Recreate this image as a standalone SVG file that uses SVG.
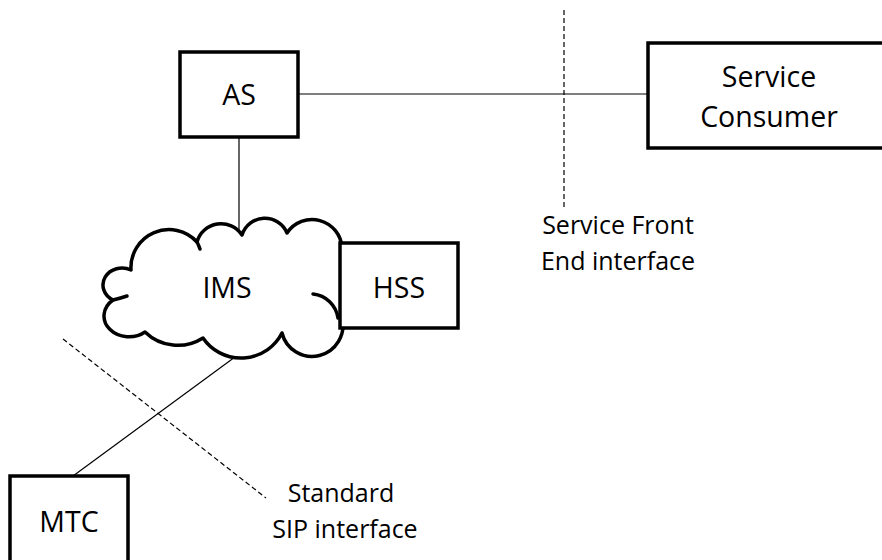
<svg xmlns="http://www.w3.org/2000/svg" width="882" height="560" viewBox="0 0 882 560">
<style>
.box{fill:#fff;stroke:#000;stroke-width:3.5}
.cloud{fill:#fff;stroke:#000;stroke-width:3.5;stroke-linejoin:round;stroke-linecap:round}
.tick{fill:none;stroke:#000;stroke-width:3.5;stroke-linecap:round}
.ln{stroke:#000;stroke-width:1.2;fill:none}
.dash{stroke:#000;stroke-width:1.2;fill:none;stroke-dasharray:5 3}
.t{font-family:"Open Sans","Noto Sans",sans-serif;font-size:28.5px;fill:#000;text-anchor:middle}
.s{font-family:"Open Sans","Noto Sans",sans-serif;font-size:25px;fill:#000;text-anchor:middle}
</style>
<rect width="882" height="560" fill="#fff"/>
<g id="connectors">
<line class="ln" x1="298" y1="94" x2="648" y2="94"/>
<line class="ln" x1="239" y1="137" x2="239" y2="234"/>
<line class="ln" x1="235" y1="357" x2="73" y2="476"/>
<line class="dash" x1="564" y1="10" x2="564" y2="210"/>
<line class="dash" x1="63" y1="339" x2="266" y2="498"/>
</g>
<g id="ims">
<path class="cloud" d="M131,270 A38,38 0 0 1 197,242 A25,25 0 0 1 242,235 A24,24 0 0 1 287,233 A30,30 0 0 1 342,248 L342,318 A28,28 0 0 1 282,333 A46,46 0 0 1 203,338 A47,47 0 0 1 145,332 A24,20 0 0 1 113,300 A19,17 0 0 1 131,270 Z"/>
<path class="tick" d="M313,294 A28,28 0 0 1 338,318"/>
<path class="tick" d="M197,242 Q199,246 200,249"/>
<path class="tick" d="M113,300 Q121,298 127,296"/>
<text class="t" x="227" y="298">IMS</text>
</g>
<g id="as">
<rect class="box" x="180" y="52" width="118" height="85"/>
<text class="t" x="239" y="105">AS</text>
</g>
<g id="hss">
<rect class="box" x="340" y="243" width="118" height="85"/>
<text class="t" x="399" y="298">HSS</text>
</g>
<g id="service-consumer">
<rect class="box" x="648" y="43" width="240" height="105"/>
<text class="t" x="769" y="87">Service</text>
<text class="t" x="769" y="127">Consumer</text>
</g>
<g id="mtc">
<rect class="box" x="10" y="476" width="118" height="100"/>
<text class="t" x="69" y="532">MTC</text>
</g>
<g id="labels">
<text class="s" x="618" y="234">Service Front</text>
<text class="s" x="618" y="270">End interface</text>
<text class="s" x="341" y="502">Standard</text>
<text class="s" x="345" y="538">SIP interface</text>
</g>
</svg>
